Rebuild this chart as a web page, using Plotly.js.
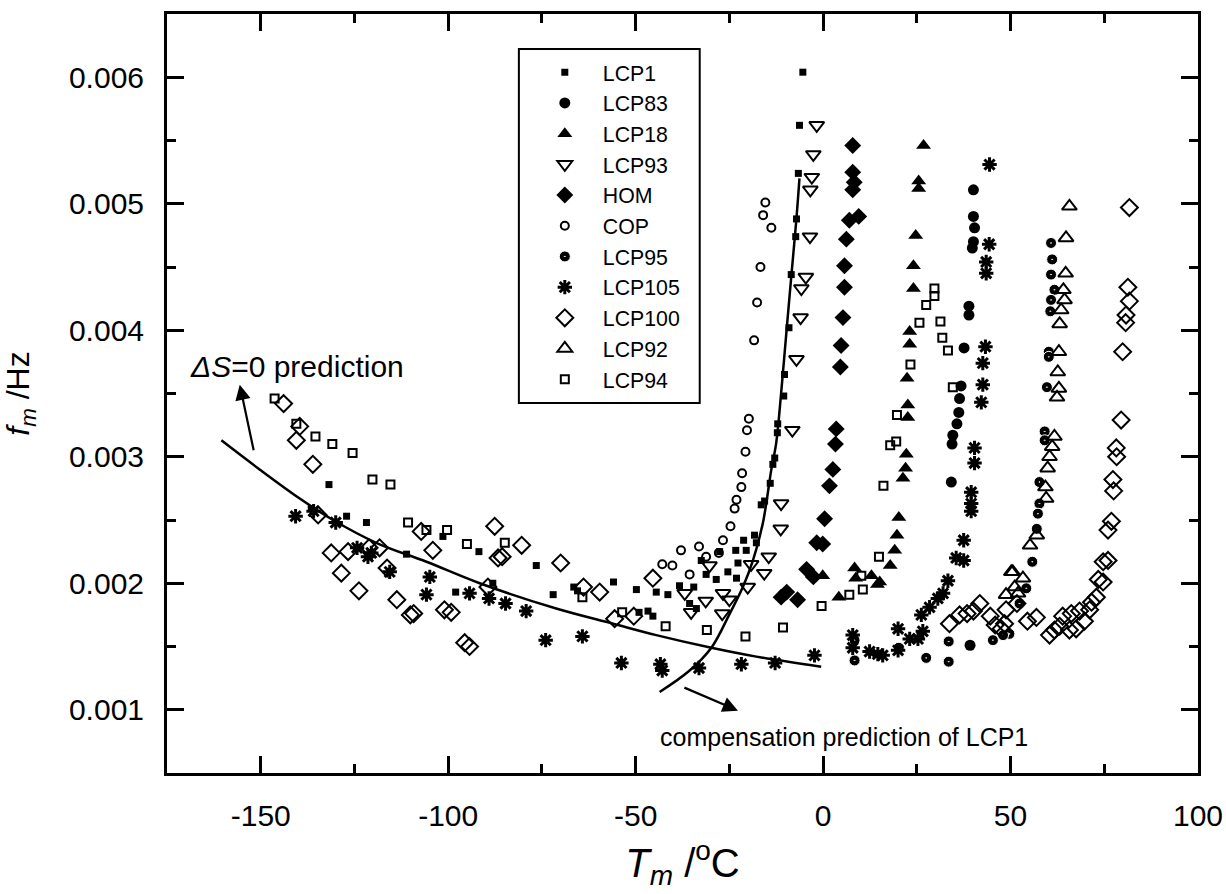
<!DOCTYPE html>
<html>
<head>
<meta charset="utf-8">
<script src="https://cdn.plot.ly/plotly-3.0.1.min.js"></script>
<style>html,body{margin:0;padding:0;background:#fff;}#chart{width:1226px;height:894px;}</style>
</head>
<body>
<div id="chart"></div>
<script>
// ---- data ----
const T_LCP1 = [-136.5,-131.8,-127.1,-121.8,-111.1,-101.4,-98.0,-91.8,-88.1,-76.5,-72.0,-66.5,-65.5,-55.9,-49.8,-49.1,-46.7,-45.4,-44.5,-41.4,-38.3,-35.6,-34.5,-33.8,-32.5,-31.2,-28.5,-27.6,-25.4,-23.3,-23.1,-22.7,-21.2,-20.5,-18.3,-17.8,-16.5,-15.6,-14.1,-13.4,-12.9,-12.2,-12.1,-10.5,-10.3,-9.1,-8.5,-7.3,-7.1,-6.6,-6.3,-5.4];
const F_LCP1 = [0.00259,0.00278,0.00253,0.00248,0.00223,0.00237,0.00193,0.00225,0.00200,0.00214,0.00191,0.00197,0.00194,0.00201,0.00195,0.00177,0.00178,0.00174,0.00193,0.00191,0.00198,0.00184,0.00197,0.00180,0.00218,0.00207,0.00203,0.00225,0.00209,0.00226,0.00204,0.00216,0.00234,0.00226,0.00238,0.00232,0.00262,0.00265,0.00279,0.00294,0.00299,0.00319,0.00326,0.00348,0.00365,0.00402,0.00444,0.00474,0.00488,0.00524,0.00562,0.00604];

const T_LCP83 = [40.1,40.1,40.4,40.1,39.8,38.9,38.9,37.6,36.8,36.4,36.2,35.7,34.6,34.4,34.2,39.2];
const F_LCP83 = [0.00511,0.00490,0.00481,0.00470,0.00465,0.00419,0.00412,0.00386,0.00356,0.00346,0.00335,0.00326,0.00317,0.00310,0.00280,0.00151];

const T_LCP18 = [26.8,25.5,25.5,24.7,24.1,24.1,23.1,23.1,22.4,22.6,22.6,22.2,22.0,21.3,20.2,19.7,19.1,17.9,15.1,12.9,8.4,8.7,4.2,-0.1,14.5];
const F_LCP18 = [0.00546,0.00518,0.00512,0.00475,0.00451,0.00433,0.00399,0.00389,0.00362,0.00341,0.00331,0.00302,0.00291,0.00283,0.00252,0.00238,0.00226,0.00214,0.00201,0.00206,0.00212,0.00204,0.00189,0.00206,0.00199];

const T_LCP93 = [-1.7,-2.6,-3.0,-3.4,-3.5,-4.6,-5.8,-6.0,-7.1,-8.2,-11.2,-11.3,-14.5,-15.7,-19.2,-20.1,-25.0,-26.7,-26.9,-30.3,-31.3,-35.2,-36.9];
const F_LCP93 = [0.00562,0.00539,0.00521,0.00511,0.00474,0.00442,0.00433,0.00410,0.00377,0.00321,0.00263,0.00243,0.00221,0.00208,0.00215,0.00197,0.00187,0.00192,0.00176,0.00214,0.00186,0.00177,0.00192];

const T_HOM = [7.9,7.9,8.3,7.9,7.0,9.5,6.2,5.7,5.7,5.3,4.8,4.6,3.5,3.3,2.6,1.7,0.4,-0.1,-1.7,-4.4,-2.6,-11.2,-9.7,-6.8];
const F_HOM = [0.00546,0.00525,0.00517,0.00511,0.00487,0.00490,0.00472,0.00451,0.00434,0.00410,0.00388,0.00371,0.00322,0.00310,0.00290,0.00277,0.00251,0.00231,0.00232,0.00211,0.00205,0.00189,0.00193,0.00187];

const T_COP = [-15.4,-16.0,-13.8,-16.7,-17.6,-18.4,-19.8,-20.3,-20.7,-21.6,-21.8,-23.1,-23.6,-24.7,-26.7,-27.8,-31.2,-33.1,-35.6,-37.9,-40.2,-42.9];
const F_COP = [0.00501,0.00491,0.00481,0.00450,0.00422,0.00392,0.00330,0.00321,0.00304,0.00287,0.00276,0.00266,0.00259,0.00245,0.00234,0.00224,0.00221,0.00229,0.00207,0.00226,0.00214,0.00215];

const T_LCP95 = [60.8,61.1,60.8,61.7,60.8,60.6,60.2,60.2,59.7,59.1,59.1,57.7,57.7,57.3,57.0,55.8,54.2,52.4,49.7,48.0,45.3,8.4,8.4,20.2,27.5,33.5,33.5];
const F_LCP95 = [0.00469,0.00456,0.00444,0.00432,0.00424,0.00415,0.00383,0.00379,0.00355,0.00320,0.00313,0.00280,0.00263,0.00255,0.00243,0.00217,0.00196,0.00184,0.00160,0.00159,0.00155,0.00139,0.00155,0.00149,0.00141,0.00154,0.00138];

const T_LCP105 = [-140.7,-135.9,-130.0,-124.3,-121.4,-120.5,-115.6,-104.9,-105.8,-94.3,-89.1,-84.7,-79.2,-74.0,-64.2,-53.8,-43.4,-42.9,-33.1,-21.8,-12.8,-2.3,7.9,7.9,12.4,14.6,15.9,20.0,20.0,23.1,25.3,26.6,26.2,28.4,30.6,32.0,33.3,35.5,37.5,37.5,39.5,39.5,39.5,40.4,40.4,42.2,42.6,42.6,43.3,43.5,43.5,44.3,44.4];
const F_LCP105 = [0.00253,0.00257,0.00248,0.00228,0.00221,0.00224,0.00209,0.00205,0.00191,0.00192,0.00188,0.00184,0.00178,0.00155,0.00158,0.00137,0.00136,0.00131,0.00133,0.00136,0.00137,0.00143,0.00159,0.00149,0.00146,0.00144,0.00143,0.00164,0.00147,0.00156,0.00156,0.00162,0.00175,0.00181,0.00188,0.00192,0.00202,0.00220,0.00234,0.00218,0.00257,0.00263,0.00272,0.00295,0.00307,0.00343,0.00357,0.00374,0.00387,0.00445,0.00454,0.00468,0.00531];

const T_LCP100 = [-143.9,-139.6,-140.5,-136.1,-134.7,-131.2,-128.5,-126.7,-123.8,-121.1,-118.3,-116.3,-113.7,-110.1,-109.2,-107.2,-104.1,-101.0,-99.2,-95.6,-94.3,-89.4,-87.6,-86.7,-85.6,-80.4,-70.0,-63.9,-59.6,-55.6,-50.5,-45.4,
  33.7,36.4,38.4,40.1,41.8,44.6,45.9,47.5,48.8,48.4,51.7,54.5,56.9,60.4,61.7,63.1,63.9,65.7,66.2,67.5,68.4,69.7,71.1,71.6,72.9,73.4,74.7,74.7,76.0,76.0,76.9,77.5,77.3,78.3,78.2,79.5,79.9,80.7,80.8,81.7,81.3,81.7];
const F_LCP100 = [0.00342,0.00324,0.00313,0.00294,0.00254,0.00224,0.00208,0.00225,0.00194,0.00228,0.00228,0.00212,0.00187,0.00175,0.00176,0.00241,0.00226,0.00179,0.00177,0.00153,0.00150,0.00197,0.00245,0.00220,0.00221,0.00230,0.00216,0.00197,0.00193,0.00172,0.00174,0.00204,
  0.00168,0.00175,0.00176,0.00178,0.00184,0.00174,0.00167,0.00164,0.00179,0.00168,0.00184,0.00170,0.00173,0.00159,0.00163,0.00166,0.00174,0.00163,0.00176,0.00164,0.00178,0.00170,0.00179,0.00185,0.00189,0.00203,0.00201,0.00217,0.00218,0.00242,0.00249,0.00273,0.00282,0.00300,0.00307,0.00329,0.00383,0.00406,0.00412,0.00423,0.00434,0.00497];

const T_LCP92 = [65.7,64.8,64.7,64.1,64.4,63.5,63.1,62.9,62.6,62.9,62.4,61.7,61.1,60.4,59.9,59.3,59.5,57.0,55.2,53.3,50.2,51.1,48.8,50.6,52.0];
const F_LCP92 = [0.00498,0.00473,0.00445,0.00432,0.00424,0.00416,0.00405,0.00383,0.00367,0.00354,0.00347,0.00316,0.00308,0.00300,0.00291,0.00276,0.00267,0.00238,0.00230,0.00204,0.00209,0.00197,0.00191,0.00209,0.00192];

const T_LCP94 = [-146.3,-140.5,-135.4,-130.9,-125.5,-120.2,-115.4,-110.7,-105.8,-100.3,-95.0,-84.9,-64.2,-53.6,-42.0,-31.0,-20.7,-10.7,-0.4,7.0,10.6,10.2,14.9,16.1,17.9,19.5,19.7,23.3,25.7,27.5,29.7,29.7,31.3,31.8,33.3,34.6];
const F_LCP94 = [0.00346,0.00326,0.00316,0.00310,0.00303,0.00282,0.00278,0.00248,0.00242,0.00242,0.00231,0.00232,0.00189,0.00177,0.00166,0.00163,0.00158,0.00165,0.00182,0.00191,0.00195,0.00206,0.00221,0.00277,0.00309,0.00312,0.00333,0.00373,0.00406,0.00420,0.00427,0.00433,0.00407,0.00394,0.00384,0.00355];

// model curves
const T_DS0 = [-160.5,-150.3,-139.6,-130.7,-119.2,-105.8,-91.6,-71.2,-56.0,-44.5,-29.8,-17.8,-0.5];
const F_DS0 = [0.00313,0.00290,0.00267,0.00250,0.00232,0.00217,0.00200,0.00180,0.00168,0.00159,0.00149,0.00142,0.00134];
const T_COMP = [-43.6,-35.6,-29.8,-24.9,-21.4,-18.7,-16.1,-13.8,-12.5,-11.2,-9.8,-8.5,-7.2,-6.3];
const F_COMP = [0.00114,0.00131,0.00149,0.00176,0.00197,0.00218,0.00247,0.00290,0.00311,0.00350,0.00398,0.00442,0.00485,0.00520];

const X_TICKS = [-150,-100,-50,0,50,100];
const Y_TICKS = [0.001,0.002,0.003,0.004,0.005,0.006];

// ---- traces ----
const FONT = 'Liberation Sans, Arial, Helvetica, sans-serif';
function sc(name, x, y, marker) {
  return {type:'scatter', mode:'markers', name:name, x:x, y:y, marker:marker, cliponaxis:true};
}
const blk = '#000';
const traces = [
  sc('LCP1', T_LCP1, F_LCP1, {symbol:'square', size:7, color:blk}),
  sc('LCP83', T_LCP83, F_LCP83, {symbol:'circle', size:11, color:blk}),
  sc('LCP18', T_LCP18, F_LCP18, {symbol:'triangle-up', size:13, color:blk}),
  sc('LCP93', T_LCP93, F_LCP93, {symbol:'triangle-down-open', size:13, color:blk, line:{width:2, color:blk}}),
  sc('HOM', T_HOM, F_HOM, {symbol:'diamond', size:13, color:blk}),
  sc('COP', T_COP, F_COP, {symbol:'circle-open', size:8, color:blk, line:{width:2, color:blk}}),
  sc('LCP95', T_LCP95, F_LCP95, {symbol:'circle-dot', size:11, color:blk, line:{width:1, color:'#fff'}}),
  sc('LCP105', T_LCP105, F_LCP105, {symbol:'asterisk-open', size:12, color:blk, line:{width:3, color:blk}}),
  sc('LCP100', T_LCP100, F_LCP100, {symbol:'diamond-open', size:13, color:blk, line:{width:2, color:blk}}),
  sc('LCP92', T_LCP92, F_LCP92, {symbol:'triangle-up-open', size:13, color:blk, line:{width:2, color:blk}}),
  sc('LCP94', T_LCP94, F_LCP94, {symbol:'square-open', size:8, color:blk, line:{width:2, color:blk}}),
  {type:'scatter', mode:'lines', x:T_DS0, y:F_DS0, line:{color:blk, width:2.5, shape:'spline'}, showlegend:false, hoverinfo:'skip'},
  {type:'scatter', mode:'lines', x:T_COMP, y:F_COMP, line:{color:blk, width:2.5, shape:'spline'}, showlegend:false, hoverinfo:'skip'}
];

const axisCommon = {
  showgrid:false, zeroline:false, showline:true, linecolor:blk, linewidth:3,
  mirror:'ticks', ticks:'inside', ticklen:17, tickwidth:3, tickcolor:blk,
  fixedrange:true
};

const layout = {
  width:1226, height:894,
  margin:{l:167, r:27.5, t:14, b:121},
  paper_bgcolor:'#fff', plot_bgcolor:'#fff',
  font:{family:FONT, color:blk},
  showlegend:true,
  xaxis: Object.assign({}, axisCommon, {
    range:[-175,100], tickvals:X_TICKS, ticktext:X_TICKS.map(String),
    tickfont:{size:30, family:FONT}, ticklabelstandoff:14,
    minor:{ticks:'inside', ticklen:9, tickwidth:3, tickcolor:blk, dtick:25, tick0:0},
    title:{text:'<i>T</i><sub><i>m</i></sub> /<sup>o</sup>C', font:{size:40, family:FONT}, standoff:18}
  }),
  yaxis: Object.assign({}, axisCommon, {
    range:[0.0005,0.0065], tickvals:Y_TICKS, ticktext:Y_TICKS.map(v=>v.toFixed(3)),
    tickfont:{size:30, family:FONT}, ticklabelstandoff:14,
    minor:{ticks:'inside', ticklen:9, tickwidth:3, tickcolor:blk, dtick:0.0005, tick0:0},
    title:{text:'<i>f</i><sub><i>m</i></sub> /Hz', font:{size:32, family:FONT}, standoff:38}
  }),
  legend:{
    x:0.349, y:0.950, xanchor:'left', yanchor:'top',
    bgcolor:'rgba(0,0,0,0)', borderwidth:0,
    font:{size:21.3, family:FONT, color:blk},
    itemsizing:'trace', itemwidth:66
  },
  shapes:[{
    type:'rect', xref:'paper', yref:'paper', x0:0.3413, x1:0.5167, y0:0.4875, y1:0.9539,
    line:{color:blk, width:2}, fillcolor:'#fff', layer:'below'
  }],
  annotations:[
    {x:-169.5, y:0.00371, xref:'x', yref:'y', xanchor:'left', yanchor:'middle', showarrow:false,
     text:'<i>\u0394S</i>=0 prediction', font:{size:30, family:FONT, color:blk}},
    {x:-44.1, y:0.000785, xref:'x', yref:'y', xanchor:'left', yanchor:'middle', showarrow:false,
     text:'compensation prediction of LCP1', font:{size:25, family:FONT, color:blk}},
    {x:-155.6, y:0.00357, xref:'x', yref:'y', ax:-151.8, ay:0.00304, axref:'x', ayref:'y',
     text:'', showarrow:true, arrowhead:2, arrowsize:1.4, arrowwidth:2.2, arrowcolor:blk},
    {x:-22.7, y:0.000993, xref:'x', yref:'y', ax:-37.4, ay:0.00118, axref:'x', ayref:'y',
     text:'', showarrow:true, arrowhead:2, arrowsize:1.4, arrowwidth:2.2, arrowcolor:blk}
  ]
};

Plotly.newPlot('chart', traces, layout, {staticPlot:true, displayModeBar:false});
</script>
</body>
</html>
